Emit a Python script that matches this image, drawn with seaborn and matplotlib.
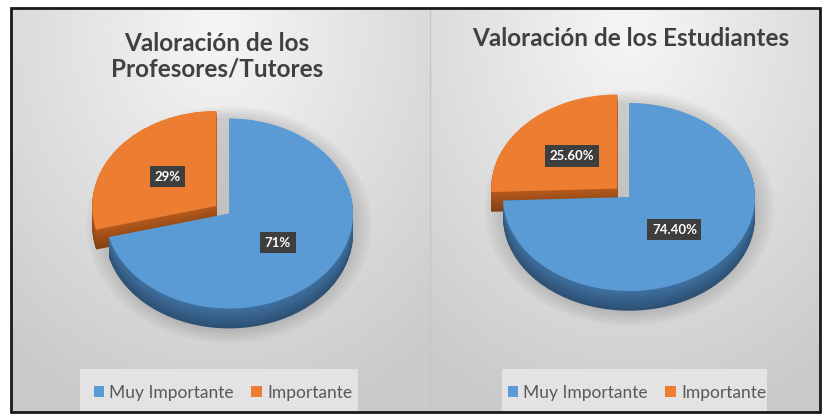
import numpy as np
import matplotlib
matplotlib.use('Agg')
import matplotlib.pyplot as plt
import seaborn as sns
from matplotlib.patches import Rectangle, Ellipse
from matplotlib.colors import to_rgb

sns.set_theme(style='white')
plt.rcParams['font.family'] = ['Lato', 'DejaVu Sans']

# datos
categorias = ['Muy Importante', 'Importante']
profesores = [71, 29]
estudiantes = [74.4, 25.6]
titulos = ['Valoración de los\nProfesores/Tutores', 'Valoración de los Estudiantes']
formatos = ['%1.0f%%', '%1.2f%%']

colores = sns.color_palette(['#5b9bd5', '#ed7d31'])
lados = ['#3f70a0', '#b5591c']

W, H = 823, 415
fig = plt.figure(figsize=(W / 100, H / 100), dpi=100)

bg = fig.add_axes([0, 0, 1, 1])
bg.set_xlim(0, W)
bg.set_ylim(H, 0)
bg.axis('off')

# fondo con degradado en cada panel
x0b, x1b, y0b, y1b = 11, 820, 8, 412
yy, xx = np.mgrid[y0b:y1b, x0b:x1b].astype(float)
cx = np.where(xx < 430, 218, 628)
r = np.sqrt(((xx - cx) / 330.0) ** 2 + ((yy - 30) / 400.0) ** 2)
val = 0.965 - 0.17 * np.clip(r, 0, 1)
bg.imshow(np.dstack([val, val, val]), extent=(x0b, x1b, y1b, y0b), aspect='auto', zorder=0)
bg.plot([430, 430], [y0b, y1b], color='#c6c6c6', lw=1, zorder=1)
bg.add_patch(Rectangle((80, 369), 278, 43, fc='#e3e3e3', ec='none', zorder=1))
bg.add_patch(Rectangle((502, 369), 265, 43, fc='#e3e3e3', ec='none', zorder=1))
bg.add_patch(Rectangle((x0b, y0b), x1b - x0b, y1b - y0b, fill=False, ec='#1a1a1a', lw=2, zorder=3))

bg.text(217, 56, titulos[0], ha='center', va='center', fontsize=17.5, fontweight='bold',
        color='#404040', linespacing=1.12)
bg.text(631, 39, titulos[1], ha='center', va='center', fontsize=17.5, fontweight='bold',
        color='#404040')


def pastel(valores, fmt, cxp, cyp, rx, ry, leg_x):
    lx0, lx1, ly0, ly1 = -1.45, 1.45, -1.5, 1.3
    top = cyp - ly1 * ry
    bot = cyp - ly0 * ry
    ax = fig.add_axes([(cxp + lx0 * rx) / W, 1 - bot / H, (lx1 - lx0) * rx / W, (bot - top) / H])
    ax.patch.set_alpha(0)
    explode = [0, 0.13]
    depth = 0.21

    # sombra suave
    for s in range(6):
        ax.add_patch(Ellipse((0, -0.12), 2.05 + 0.05 * s, 2.25 + 0.05 * s,
                             fc='black', ec='none', alpha=0.025))

    # lateral 3D
    n = 24
    for k, d in enumerate(np.linspace(depth, 0.005, n)):
        t = k / (n - 1)
        cols = [np.array(to_rgb(c)) * (0.72 + 0.28 * t) for c in lados]
        ax.pie(valores, colors=cols, startangle=90, counterclock=False, explode=explode,
               center=(0, -d), wedgeprops=dict(linewidth=0))

    wedges, _, autotexts = ax.pie(valores, colors=colores, startangle=90, counterclock=False,
                                  explode=explode, autopct=fmt, pctdistance=0.5,
                                  wedgeprops=dict(linewidth=0),
                                  textprops=dict(color='white', fontweight='bold', fontsize=9.5))
    for t in autotexts:
        t.set_bbox(dict(boxstyle='square,pad=0.35', fc='#3e3e3e', ec='none'))
    ax.set_aspect('auto')
    ax.set_xlim(lx0, lx1)
    ax.set_ylim(ly0, ly1)
    ax.axis('off')

    leg = ax.legend(wedges, categorias, loc='center', bbox_to_anchor=(leg_x / W, 1 - 393 / H),
                    bbox_transform=fig.transFigure, ncol=2, frameon=False, handlelength=0.6,
                    handleheight=0.6, handletextpad=0.3, columnspacing=1.0, fontsize=12.5)
    for txt in leg.get_texts():
        txt.set_color('#595959')
    return ax


pastel(profesores, formatos[0], 229, 213.5, 124, 95, 223)
pastel(estudiantes, formatos[1], 629, 197, 126, 94, 637)

fig.savefig('out.png', dpi=100, facecolor='white')
